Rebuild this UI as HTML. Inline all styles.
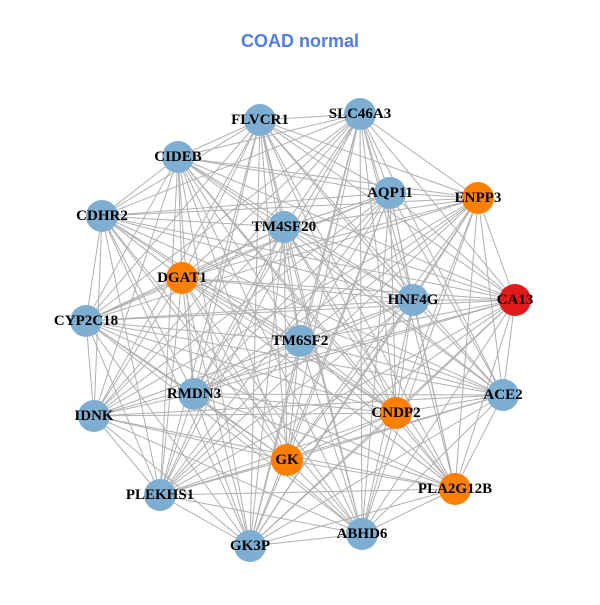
<!DOCTYPE html>
<html><head><meta charset="utf-8"><style>
body{margin:0;background:#fff}
svg text{font-family:"Liberation Serif",serif;font-weight:bold;font-size:15px;text-anchor:middle;dominant-baseline:central}
</style></head><body>
<svg id="s" width="600" height="600" xmlns="http://www.w3.org/2000/svg">
<rect width="600" height="600" fill="#fff"/>
<text x="300" y="41" style="font-family:'Liberation Sans',sans-serif;font-size:18px;fill:#4f7de8">COAD normal</text>
<g id="e" stroke="#b0b0b0" stroke-width="1"></g>
<g id="n"></g>
<g id="t">
<text x="260" y="120">FLVCR1</text>
<text x="360" y="114">SLC46A3</text>
<text x="178" y="157">CIDEB</text>
<text x="390" y="193">AQP11</text>
<text x="478" y="198">ENPP3</text>
<text x="102" y="216">CDHR2</text>
<text x="284" y="227">TM4SF20</text>
<text x="182" y="278">DGAT1</text>
<text x="413" y="300">HNF4G</text>
<text x="515" y="300">CA13</text>
<text x="86" y="321">CYP2C18</text>
<text x="300" y="341">TM6SF2</text>
<text x="194" y="394">RMDN3</text>
<text x="503" y="395">ACE2</text>
<text x="396" y="413">CNDP2</text>
<text x="94" y="416">IDNK</text>
<text x="287" y="460">GK</text>
<text x="455" y="489">PLA2G12B</text>
<text x="160" y="495">PLEKHS1</text>
<text x="362" y="534">ABHD6</text>
<text x="250" y="546">GK3P</text>
</g>
</svg>
<script>
var N=[[260,120,0],[360,114,0],[178,157,0],[390,193,0],[478,198,1],[102,216,0],[284,227,0],[182,278,1],[413,300,0],[515,300,2],[86,321,0],[300,341,0],[194,394,0],[503,395,0],[396,413,1],[94,416,0],[287,460,1],[455,489,1],[160,495,0],[362,534,0],[250,546,0]];
var C=["#7eafd3","#ff7f00","#e31a1c"],ns="http://www.w3.org/2000/svg";
var e=document.getElementById("e"),n=document.getElementById("n");
for(var i=0;i<N.length;i++)for(var j=i+1;j<N.length;j++){
 var d=Math.hypot(N[i][0]-N[j][0],N[i][1]-N[j][1]);if(d<90&&(i+j)%3==0)continue;
 var l=document.createElementNS(ns,"line");l.setAttribute("x1",N[i][0]);l.setAttribute("y1",N[i][1]);l.setAttribute("x2",N[j][0]);l.setAttribute("y2",N[j][1]);e.appendChild(l);}
N.forEach(function(p){var c=document.createElementNS(ns,"circle");c.setAttribute("cx",p[0]);c.setAttribute("cy",p[1]);c.setAttribute("r",16);c.setAttribute("fill",C[p[2]]);n.appendChild(c);});
</script>
</body></html>
